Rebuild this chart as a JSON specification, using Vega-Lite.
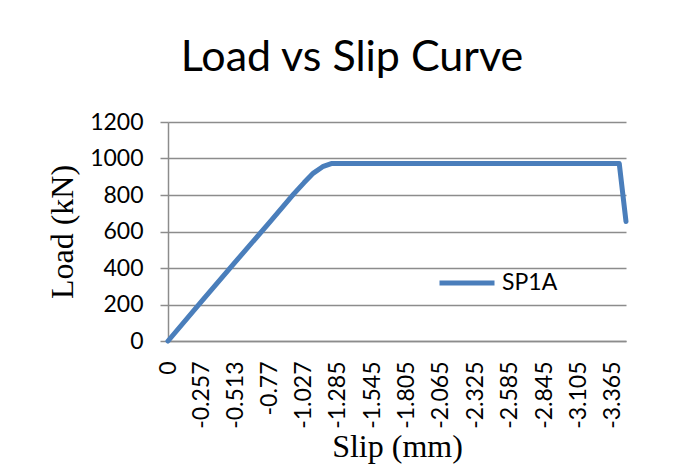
{
  "$schema": "https://vega.github.io/schema/vega-lite/v6.json",
  "width": 458,
  "height": 219,
  "autosize": "none",
  "padding": {"left": 168, "top": 122, "right": 63, "bottom": 124},
  "background": "white",
  "title": {
    "text": "Load vs Slip Curve",
    "font": "Lato",
    "fontSize": 43,
    "fontWeight": "normal",
    "color": "black",
    "anchor": "middle",
    "frame": "group",
    "dx": -45,
    "offset": 31
  },
  "data": {
    "values": [
      {"slip": 0, "load": 0, "series": "SP1A"},
      {"slip": -0.257, "load": 220, "series": "SP1A"},
      {"slip": -0.513, "load": 436, "series": "SP1A"},
      {"slip": -0.77, "load": 652, "series": "SP1A"},
      {"slip": -0.95, "load": 805, "series": "SP1A"},
      {"slip": -1.03, "load": 868, "series": "SP1A"},
      {"slip": -1.1, "load": 920, "series": "SP1A"},
      {"slip": -1.17, "load": 955, "series": "SP1A"},
      {"slip": -1.235, "load": 972, "series": "SP1A"},
      {"slip": -3.414, "load": 972, "series": "SP1A"},
      {"slip": -3.465, "load": 655, "series": "SP1A"}
    ]
  },
  "mark": {"type": "line", "strokeWidth": 5, "strokeCap": "round", "strokeJoin": "round", "clip": false},
  "encoding": {
    "x": {
      "field": "slip",
      "type": "quantitative",
      "sort": null,
      "scale": {"domain": [-3.465, 0], "reverse": true, "nice": false, "zero": false},
      "axis": {
        "title": "Slip (mm)",
        "values": [0, -0.257, -0.513, -0.77, -1.027, -1.285, -1.545, -1.805, -2.065, -2.325, -2.585, -2.845, -3.105, -3.365],
        "labelExpr": "'' + datum.value",
        "labelAngle": -90,
        "labelAlign": "right",
        "labelBaseline": "middle",
        "labelPadding": 20,
        "ticks": false,
        "tickSize": 0,
        "grid": false,
        "labelFont": "Lato",
        "labelFontSize": 23,
        "labelColor": "black",
        "labelOverlap": false,
        "labelBound": false,
        "labelFlush": false,
        "domainColor": "#8c8c8c",
        "domainWidth": 1.5,
        "titleFont": "Liberation Serif",
        "titleFontSize": 32,
        "titleFontWeight": "normal",
        "titleColor": "black",
        "titlePadding": 3
      }
    },
    "y": {
      "field": "load",
      "type": "quantitative",
      "scale": {"domain": [0, 1200], "nice": false},
      "axis": {
        "title": "Load (kN)",
        "values": [0, 200, 400, 600, 800, 1000, 1200],
        "labelExpr": "'' + datum.value",
        "grid": true,
        "gridColor": "#8c8c8c",
        "gridWidth": 1.5,
        "domainColor": "#8c8c8c",
        "domainWidth": 1.5,
        "tickColor": "#8c8c8c",
        "tickWidth": 1.5,
        "tickSize": 8,
        "labelPadding": 17,
        "labelFont": "Lato",
        "labelFontSize": 23,
        "labelColor": "black",
        "titleFont": "Liberation Serif",
        "titleFontSize": 32,
        "titleFontWeight": "normal",
        "titleColor": "black",
        "titlePadding": 10
      }
    },
    "color": {
      "field": "series",
      "type": "nominal",
      "scale": {"range": ["#4a7ebb"]},
      "legend": {
        "title": null,
        "orient": "none",
        "legendX": 269,
        "legendY": 131,
        "symbolType": "stroke",
        "symbolSize": 3025,
        "symbolStrokeWidth": 5,
        "labelFont": "Lato",
        "labelFontSize": 23,
        "labelColor": "black",
        "labelOffset": 5
      }
    }
  },
  "config": {"view": {"stroke": null}}
}
